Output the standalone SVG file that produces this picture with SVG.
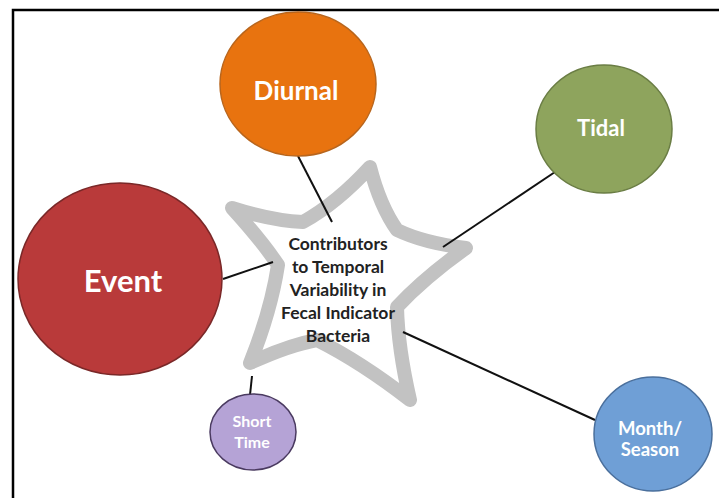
<svg xmlns="http://www.w3.org/2000/svg" width="719" height="498" viewBox="0 0 719 498">
<style>
.lbl{font-family:Lato,"Liberation Sans",sans-serif;font-weight:bold;fill:#ffffff;text-anchor:middle}
.ctr{font-family:Lato,"Liberation Sans",sans-serif;font-weight:bold;fill:#222222;text-anchor:middle;font-size:17.5px}
.con{stroke:#111;stroke-width:2;fill:none}
</style>
<rect x="0" y="0" width="719" height="498" fill="#ffffff"/>
<path d="M13,498 L13,10 L719,10" fill="none" stroke="#000" stroke-width="2.5"/>
<g id="star">
<path d="M303,222 Q337,203 370,167 Q380,206 397,230 Q424,243 466,248 Q424,278 397,307 Q398,348 410,400 Q361,362 317,340 Q289,345 250,363 Q271,311 278,265 Q262,241 232,208 Q273,221 303,222 Z" fill="#ffffff" stroke="#c2c2c2" stroke-width="14" stroke-linejoin="round"/>
</g>
<g id="connectors">
<line class="con" x1="298" y1="156" x2="332" y2="222"/>
<line class="con" x1="555" y1="172" x2="443" y2="247"/>
<line class="con" x1="223" y1="279" x2="273" y2="262"/>
<line class="con" x1="403" y1="332" x2="595" y2="420"/>
<line class="con" x1="252" y1="376" x2="250" y2="395"/>
</g>
<g id="center-text">
<text class="ctr" x="338" y="250">Contributors</text>
<text class="ctr" x="338" y="273">to Temporal</text>
<text class="ctr" x="338" y="296">Variability in</text>
<text class="ctr" x="338" y="319">Fecal Indicator</text>
<text class="ctr" x="338" y="342">Bacteria</text>
</g>
<g id="diurnal">
<ellipse cx="298" cy="84" rx="78" ry="72" fill="#e8730f" stroke="#b8651c" stroke-width="1.5"/>
<text class="lbl" x="296" y="100" font-size="26">Diurnal</text>
</g>
<g id="event">
<ellipse cx="120" cy="279" rx="102" ry="96" fill="#b93a3a" stroke="#7a2828" stroke-width="1.5"/>
<text class="lbl" x="123" y="292" font-size="31">Event</text>
</g>
<g id="tidal">
<ellipse cx="604" cy="129" rx="68" ry="64" fill="#8ea45d" stroke="#6a7d44" stroke-width="1.5"/>
<text class="lbl" x="601" y="136" font-size="22">Tidal</text>
</g>
<g id="short-time">
<ellipse cx="253" cy="432" rx="43" ry="38" fill="#b5a3d6" stroke="#4a3a60" stroke-width="1.5"/>
<text class="lbl" x="252" y="427" font-size="16" fill="#f2eef8">Short</text>
<text class="lbl" x="252" y="448" font-size="16" fill="#f2eef8">Time</text>
</g>
<g id="month-season">
<ellipse cx="653" cy="434" rx="59" ry="57" fill="#6f9fd6" stroke="#4a6f9c" stroke-width="1.5"/>
<text class="lbl" x="650" y="435" font-size="18.5">Month/</text>
<text class="lbl" x="650" y="456" font-size="18.5">Season</text>
</g>
</svg>
